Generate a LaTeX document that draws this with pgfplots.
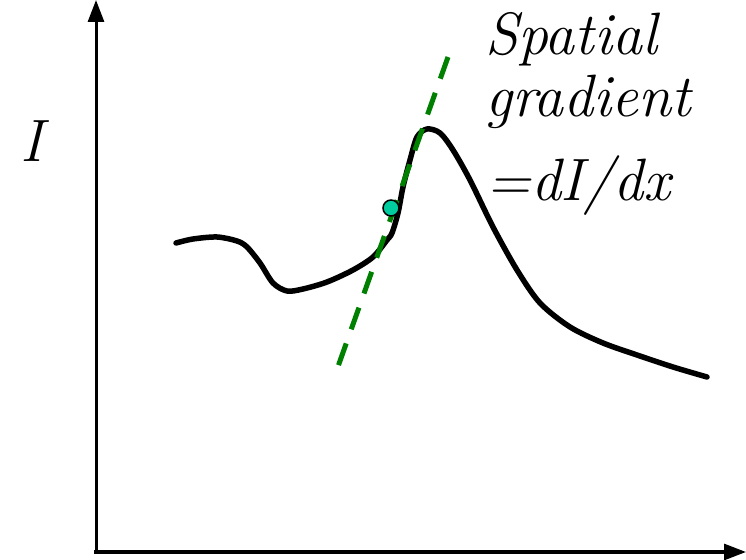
\documentclass[border=0pt]{standalone}
\usepackage{pgfplots}
\pgfplotsset{compat=1.18}
\usetikzlibrary{arrows.meta}
\definecolor{tangentgreen}{RGB}{0,128,0}
\definecolor{pointteal}{RGB}{0,204,160}
\begin{document}
\begin{tikzpicture}
\useasboundingbox (0,0) rectangle (746bp,560bp);
\begin{axis}[
  scale only axis, width=746bp, height=560bp,
  xmin=0, xmax=746, ymin=0, ymax=560,
  hide axis, clip=false,
]
% coordinate axes
\addplot[black, line width=3bp, -{Triangle[length=22bp,width=16bp]}]
  coordinates {(96,8) (96,560)};
\addplot[black, line width=3bp, -{Triangle[length=22bp,width=16bp]}]
  coordinates {(94,8) (746,8)};
% intensity profile I(x)
\addplot[black, line width=5.5bp, smooth, line cap=round, line join=round] coordinates {
  (176,317) (193,321) (217,323) (237,319) (247,313) (260,297) (273,277)
  (287,269) (303,271) (327,278) (353,290) (373,303) (387,320) (392,327)
  (398,347) (403,373) (410,400) (417,423) (427,431) (440,427) (453,410)
  (470,380) (493,333) (517,290) (540,257) (570,233) (603,217) (637,205)
  (673,193) (707,183)
};
% tangent line at the marked point
\addplot[tangentgreen, line width=5bp, dash pattern=on 23bp off 15bp]
  coordinates {(448,503) (335,185)};
% point where the gradient is taken
\addplot[only marks, mark=*, mark size=8bp,
  mark options={fill=pointteal, draw=black, line width=1.5bp}]
  coordinates {(391,352)};
% labels
\tikzset{biglabel/.style={anchor=base west, inner sep=0pt,
  font=\itshape\fontsize{60}{60}\selectfont}}
\node[biglabel] at (axis cs:20,398) {I};
\node[biglabel] at (axis cs:485,505) {Spatial};
\node[biglabel] at (axis cs:485,443) {gradient};
\node[biglabel] at (axis cs:486,360) {=dI/dx};
\end{axis}
\end{tikzpicture}
\end{document}
